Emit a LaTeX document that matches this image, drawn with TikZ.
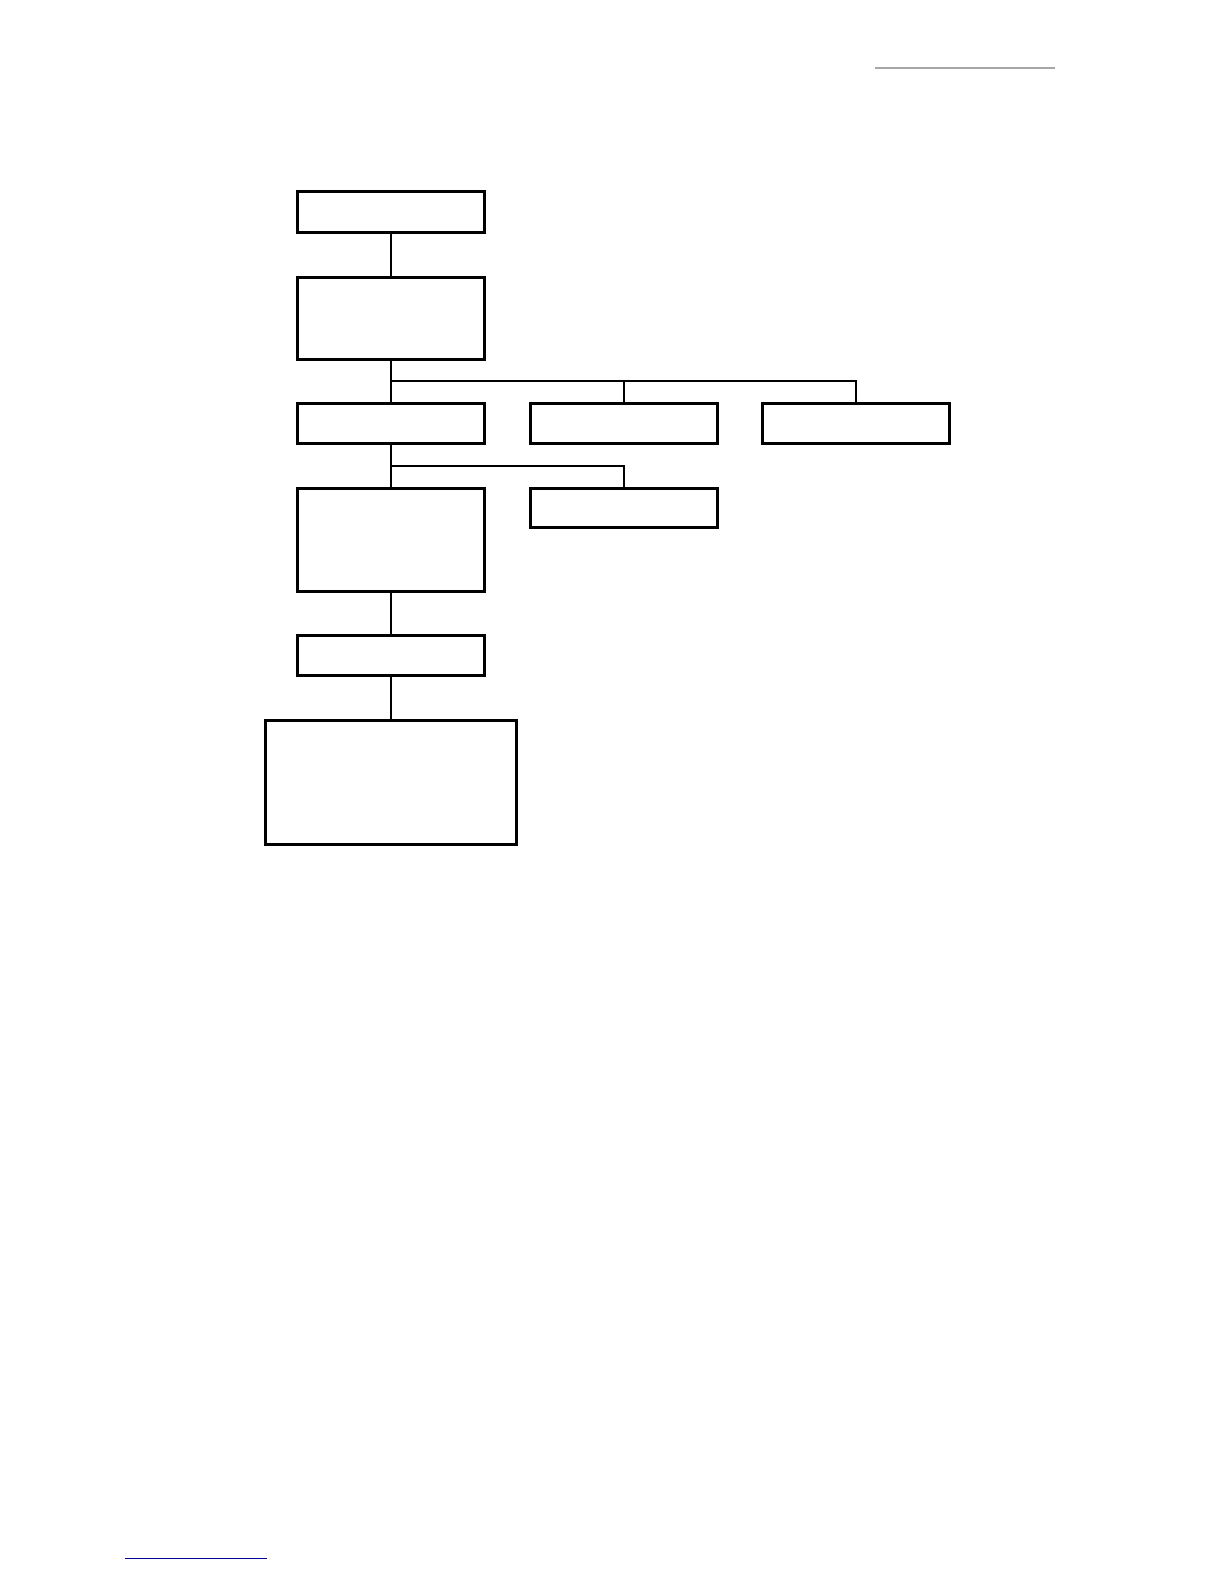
\documentclass[tikz,border=0pt]{standalone}
\usetikzlibrary{positioning}
\tikzset{
    box/.style={draw, line width=1.5pt, inner sep=0pt, minimum width=93.5pt},
    link/.style={line width=0.75pt},
}
\begin{document}
\begin{tikzpicture}[x=0.5pt, y=-0.5pt]
        \useasboundingbox (0,0) rectangle (1224,1584);
        % page rules
        \draw[gray!70, line width=1pt] (875,68) -- (1055,68);
        \draw[blue!60!black, line width=0.4pt] (125,1558) -- (267,1558);
        % main column
        \node[box, minimum height=20.5pt] (top) at (391,212) {};
        \node[box, minimum height=41pt] (second) at (391,318) {};
        \node[box, minimum height=20pt] (midA) at (391,423) {};
        \node[box, minimum height=20pt] (midB) at (624,423) {};
        \node[box, minimum height=20pt] (midC) at (856,423) {};
        \node[box, minimum height=51.5pt] (lowA) at (391,540) {};
        \node[box, minimum height=19.5pt] (lowB) at (624,508) {};
        \node[box, minimum height=20pt] (fifth) at (391,655.5) {};
        \node[box, minimum width=125.5pt, minimum height=62pt] (last) at (391,782.5) {};
        % connectors
        \coordinate (busA) at (391,381);
        \coordinate (busB) at (391,466);
        \draw[link] (top) -- (second);
        \draw[link] (second) -- (midA);
        \draw[link] (busA) -| (midB.north);
        \draw[link] (busA) -| (midC.north);
        \draw[link] (midA) -- (lowA);
        \draw[link] (busB) -| (lowB.north);
        \draw[link] (lowA) -- (fifth);
        \draw[link] (fifth) -- (last);
    \end{tikzpicture}
\end{document}
